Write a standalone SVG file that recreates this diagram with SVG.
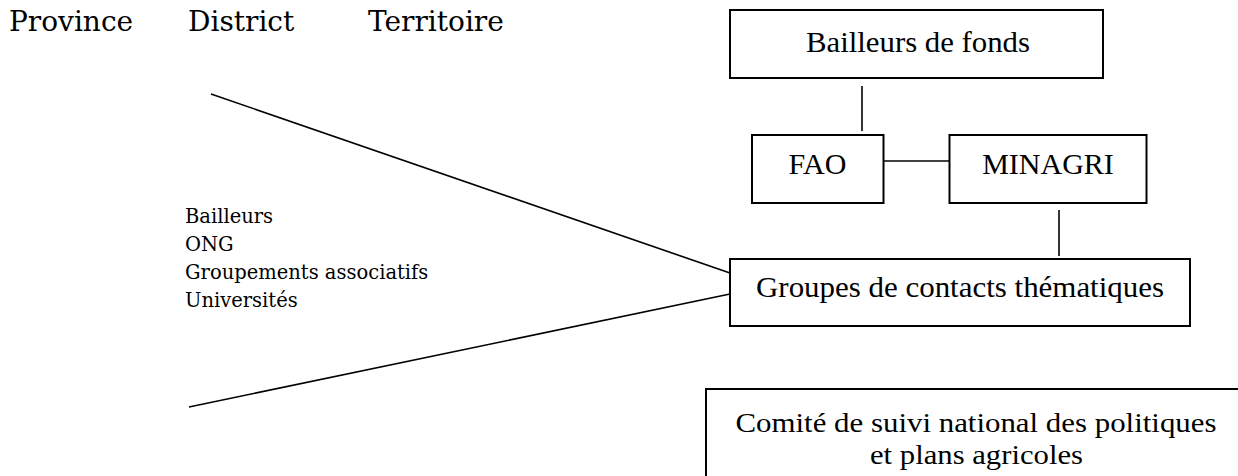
<svg xmlns="http://www.w3.org/2000/svg" width="1238" height="476" viewBox="0 0 1238 476">
<style>
.box{fill:#fff;stroke:#000;stroke-width:2}
.bt{font-family:"Liberation Serif",serif;font-size:30px;fill:#000;text-anchor:middle}
.ct{font-family:"Liberation Serif",serif;font-size:28px;fill:#000;text-anchor:middle}
.hd{font-family:"DejaVu Serif","Liberation Serif",serif;font-size:28px;fill:#000}
.ls{font-family:"DejaVu Serif","Liberation Serif",serif;font-size:19.5px;fill:#000}
.cn{stroke:#000;stroke-width:1.6;fill:none}
</style>
<rect width="1238" height="476" fill="#fff"/>
<g id="header">
<text class="hd" x="9" y="31">Province</text>
<text class="hd" x="188" y="31">District</text>
<text class="hd" x="368" y="31">Territoire</text>
</g>
<g id="connectors">
<line class="cn" x1="862" y1="86" x2="862" y2="131"/>
<line class="cn" x1="884" y1="161" x2="949" y2="161"/>
<line class="cn" x1="1059" y1="210" x2="1059" y2="256"/>
<line class="cn" x1="211" y1="94" x2="730" y2="273"/>
<line class="cn" x1="189" y1="407" x2="730" y2="294"/>
</g>
<g id="acteurs">
<text class="ls" x="185" y="223">Bailleurs</text>
<text class="ls" x="185" y="251">ONG</text>
<text class="ls" x="185" y="279">Groupements associatifs</text>
<text class="ls" x="185" y="307">Universités</text>
</g>
<g id="bailleurs">
<rect class="box" x="730" y="10" width="373" height="68"/>
<text class="bt" x="918" y="52" textLength="224" lengthAdjust="spacingAndGlyphs">Bailleurs de fonds</text>
</g>
<g id="fao">
<rect class="box" x="752" y="135" width="131.5" height="68"/>
<text class="bt" x="817.5" y="174">FAO</text>
</g>
<g id="minagri">
<rect class="box" x="949.5" y="135" width="197" height="68"/>
<text class="bt" x="1048" y="174">MINAGRI</text>
</g>
<g id="groupes">
<rect class="box" x="730" y="259" width="460" height="67"/>
<text class="bt" x="960" y="297" textLength="408" lengthAdjust="spacingAndGlyphs">Groupes de contacts thématiques</text>
</g>
<g id="comite">
<rect class="box" x="706" y="389" width="540" height="120"/>
<text class="ct" x="976" y="432" textLength="481" lengthAdjust="spacingAndGlyphs">Comité de suivi national des politiques</text>
<text class="ct" x="976.5" y="463.5" textLength="213" lengthAdjust="spacingAndGlyphs">et plans agricoles</text>
</g>
</svg>
